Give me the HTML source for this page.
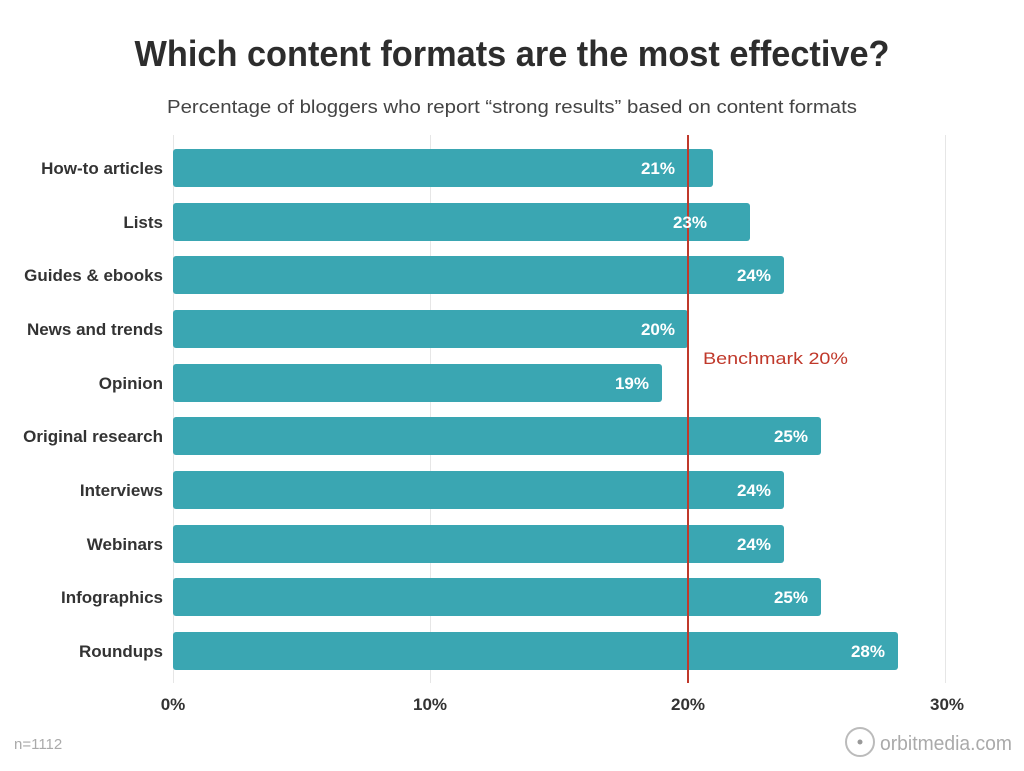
<!DOCTYPE html>
<html><head><meta charset="utf-8"><style>
html,body{margin:0;padding:0;background:#fff;}
svg{display:block;font-family:"Liberation Sans",sans-serif;}
</style></head><body>
<svg width="1024" height="771" viewBox="0 0 1024 771" xmlns="http://www.w3.org/2000/svg">
<rect width="1024" height="771" fill="#fff"/>
<text x="512" y="66" text-anchor="middle" font-size="36" font-weight="bold" fill="#2d2d2d" textLength="755" lengthAdjust="spacingAndGlyphs">Which content formats are the most effective?</text>
<text x="512" y="113" text-anchor="middle" font-size="18" fill="#444" textLength="690" lengthAdjust="spacingAndGlyphs">Percentage of bloggers who report “strong results” based on content formats</text>
<g stroke="#e6e6e6" stroke-width="1">
<line x1="173.5" y1="135" x2="173.5" y2="683"/>
<line x1="430.5" y1="135" x2="430.5" y2="683"/>
<line x1="945.5" y1="135" x2="945.5" y2="683"/>
</g>
<g fill="#3aa6b2">
<rect x="173" y="149" width="540" height="38" rx="3"/>
<rect x="173" y="203" width="577" height="38" rx="3"/>
<rect x="173" y="256" width="611" height="38" rx="3"/>
<rect x="173" y="310" width="515" height="38" rx="3"/>
<rect x="173" y="364" width="489" height="38" rx="3"/>
<rect x="173" y="417" width="648" height="38" rx="3"/>
<rect x="173" y="471" width="611" height="38" rx="3"/>
<rect x="173" y="525" width="611" height="38" rx="3"/>
<rect x="173" y="578" width="648" height="38" rx="3"/>
<rect x="173" y="632" width="725" height="38" rx="3"/>
</g>
<line x1="688" y1="135" x2="688" y2="683" stroke="#c0392b" stroke-width="2"/>
<g font-size="17" font-weight="bold" fill="#fff" text-anchor="end">
<text x="675" y="174">21%</text>
<text x="707" y="228">23%</text>
<text x="771" y="281">24%</text>
<text x="675" y="335">20%</text>
<text x="649" y="389">19%</text>
<text x="808" y="442">25%</text>
<text x="771" y="496">24%</text>
<text x="771" y="550">24%</text>
<text x="808" y="603">25%</text>
<text x="885" y="657">28%</text>
</g>
<g font-size="17" font-weight="bold" fill="#333" text-anchor="end">
<text x="163" y="174">How-to articles</text>
<text x="163" y="228">Lists</text>
<text x="163" y="281">Guides &amp; ebooks</text>
<text x="163" y="335">News and trends</text>
<text x="163" y="389">Opinion</text>
<text x="163" y="442">Original research</text>
<text x="163" y="496">Interviews</text>
<text x="163" y="550">Webinars</text>
<text x="163" y="603">Infographics</text>
<text x="163" y="657">Roundups</text>
</g>
<text x="703" y="364" font-size="17" fill="#c0392b" textLength="145" lengthAdjust="spacingAndGlyphs">Benchmark 20%</text>
<g font-size="17" font-weight="bold" fill="#333" text-anchor="middle">
<text x="173" y="710">0%</text>
<text x="430" y="710">10%</text>
<text x="688" y="710">20%</text>
<text x="947" y="710">30%</text>
</g>
<text x="14" y="749" font-size="15" fill="#aaa">n=1112</text>
<circle cx="860" cy="742" r="14" fill="none" stroke="#bbb" stroke-width="2"/>
<circle cx="860" cy="742" r="2.5" fill="#999"/>
<text x="880" y="750" font-size="20" fill="#aaa" textLength="132" lengthAdjust="spacingAndGlyphs">orbitmedia.com</text>
</svg>
</body></html>
